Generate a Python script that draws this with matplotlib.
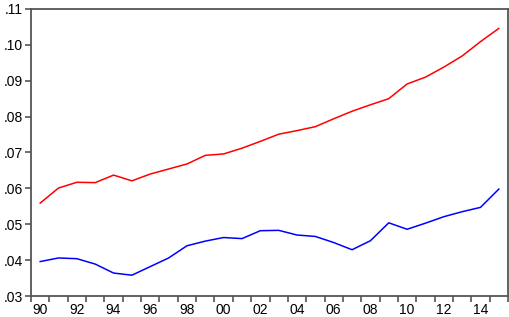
import numpy as np
import matplotlib
matplotlib.use('Agg')
import matplotlib.pyplot as plt
from matplotlib.ticker import FixedLocator, FuncFormatter

anos = list(range(1990, 2016))
serie_vermelha = [0.0559, 0.0601, 0.0617, 0.0616, 0.0637, 0.0621, 0.0640, 0.0654, 0.0668, 0.0692,
                  0.0696, 0.0712, 0.0731, 0.0751, 0.0761, 0.0772, 0.0794, 0.0815, 0.0833, 0.0850,
                  0.0891, 0.0910, 0.0938, 0.0969, 0.1009, 0.1046]
serie_azul = [0.0396, 0.0406, 0.0404, 0.0389, 0.0364, 0.0358, 0.0382, 0.0406, 0.0440, 0.0453,
              0.0463, 0.0460, 0.0482, 0.0483, 0.0470, 0.0466, 0.0449, 0.0429, 0.0454, 0.0504,
              0.0486, 0.0503, 0.0521, 0.0535, 0.0547, 0.0598]
rotulos_anos = ['90', '92', '94', '96', '98', '00', '02', '04', '06', '08', '10', '12', '14']
y_ticks = [0.03, 0.04, 0.05, 0.06, 0.07, 0.08, 0.09, 0.10, 0.11]

plt.rcParams['font.family'] = ['Liberation Sans', 'DejaVu Sans']

fig = plt.figure(figsize=(5.1, 3.17), dpi=100)
ax = fig.add_axes([31/510, 21/317, 477/510, 287/317])

ax.plot(anos, serie_vermelha, color='#ff0000', linewidth=1.1)
ax.plot(anos, serie_azul, color='#0000ff', linewidth=1.1)

ax.set_xlim(1989.5, 2015.5)
ax.set_ylim(0.03, 0.11)

ax.xaxis.set_major_locator(FixedLocator(anos[::2]))
ax.set_xticklabels(rotulos_anos)
ax.xaxis.set_minor_locator(FixedLocator(np.arange(1989.5, 2016, 1.0)))
ax.tick_params(axis='x', which='major', length=0, pad=5, labelsize=10)
ax.tick_params(axis='x', which='minor', length=4, width=1.2, color='#555555', direction='out')

ax.set_yticks(y_ticks)
ax.yaxis.set_major_formatter(FuncFormatter(lambda v, p: '.%02d' % round(v * 100)))
ax.tick_params(axis='y', length=4, width=1.2, color='#555555', direction='out', pad=2, labelsize=10)

for s in ax.spines.values():
    s.set_color('#555555')
    s.set_linewidth(1.3)

fig.savefig('out.png', dpi=100)
